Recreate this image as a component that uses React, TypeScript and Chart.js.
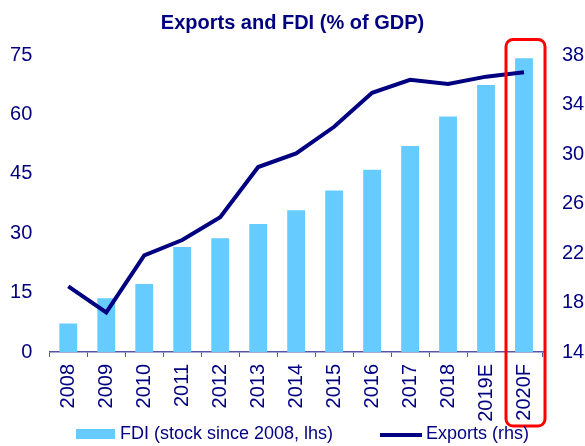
import React, { useEffect, useRef } from "react";
import { Chart, registerables } from "chart.js";

Chart.register(...registerables);

const categories = ["2008", "2009", "2010", "2011", "2012", "2013", "2014", "2015", "2016", "2017", "2018", "2019E", "2020F"];
const fdiStock = [7.2, 13.6, 17.2, 26.5, 28.7, 32.3, 35.8, 40.8, 46.0, 52.0, 59.5, 67.4, 74.2];
const exportsGdp = [19.3, 17.2, 21.8, 23.05, 24.9, 28.95, 30.05, 32.2, 34.95, 36.0, 35.65, 36.25, 36.6];
const leftTicks = [0, 15, 30, 45, 60, 75];
const rightTicks = [14, 18, 22, 26, 30, 34, 38];
const titleText = "Exports and FDI (% of GDP)";
const fdiLabel = "FDI (stock since 2008, lhs)";
const exportsLabel = "Exports (rhs)";
const highlightIndex = 12;

const NAVY = "#000080";
const BAR = "#66ccff";
const FONT = "'Liberation Sans', Arial, sans-serif";

const highlightPlugin = {
  id: "highlightBox",
  afterDatasetsDraw(chart: any) {
    const x = chart.scales.x;
    const area = chart.chartArea;
    const cx = x.getPixelForValue(highlightIndex);
    const left = cx - 18;
    const right = cx + 21;
    const top = area.top - 15.5;
    const bottom = area.bottom + 74;
    const r = 7;
    const ctx = chart.ctx;
    ctx.save();
    ctx.strokeStyle = "#ff0000";
    ctx.lineWidth = 3;
    ctx.beginPath();
    ctx.moveTo(left + r, top);
    ctx.lineTo(right - r, top);
    ctx.arcTo(right, top, right, top + r, r);
    ctx.lineTo(right, bottom - r);
    ctx.arcTo(right, bottom, right - r, bottom, r);
    ctx.lineTo(left + r, bottom);
    ctx.arcTo(left, bottom, left, bottom - r, r);
    ctx.lineTo(left, top + r);
    ctx.arcTo(left, top, left + r, top, r);
    ctx.closePath();
    ctx.stroke();
    ctx.restore();
  },
};

const legendPlugin = {
  id: "customLegend",
  afterDraw(chart: any) {
    const ctx = chart.ctx;
    const ds = chart.data.datasets;
    const y = 434.5;
    ctx.save();
    ctx.font = `18px ${FONT}`;
    ctx.textBaseline = "middle";
    ctx.textAlign = "left";
    ctx.fillStyle = ds[1].backgroundColor;
    ctx.fillRect(76, 429, 39, 10);
    ctx.fillStyle = NAVY;
    ctx.fillText(ds[1].label, 120, y);
    ctx.strokeStyle = ds[0].borderColor;
    ctx.lineWidth = 4;
    ctx.beginPath();
    ctx.moveTo(380, 435);
    ctx.lineTo(422, 435);
    ctx.stroke();
    ctx.fillStyle = NAVY;
    ctx.fillText(ds[0].label, 426, y);
    ctx.restore();
  },
};

export default function App() {
  const ref = useRef<HTMLCanvasElement | null>(null);
  useEffect(() => {
    if (!ref.current) return;
    const chart = new Chart(ref.current, {
      type: "bar",
      data: {
        labels: categories,
        datasets: [
          {
            type: "line",
            label: exportsLabel,
            data: exportsGdp,
            yAxisID: "y1",
            borderColor: NAVY,
            backgroundColor: NAVY,
            borderWidth: 4,
            pointRadius: 0,
            tension: 0,
            order: 0,
          } as any,
          {
            type: "bar",
            label: fdiLabel,
            data: fdiStock,
            yAxisID: "y",
            backgroundColor: BAR,
            borderWidth: 0,
            categoryPercentage: 1,
            barPercentage: 0.47,
            order: 1,
          },
        ],
      },
      options: {
        responsive: false,
        animation: false,
        layout: { padding: { left: 0, right: 0, top: 0, bottom: 21 } },
        plugins: {
          legend: { display: false },
          tooltip: { enabled: false },
          title: {
            display: true,
            text: titleText,
            color: NAVY,
            font: { family: FONT, size: 20, weight: "bold" },
            padding: { top: 11, bottom: 20 },
          },
        },
        scales: {
          x: {
            offset: true,
            grid: {
              offset: true,
              drawOnChartArea: false,
              drawTicks: true,
              tickLength: 5,
              color: "#5555aa",
              lineWidth: 1,
            },
            border: { display: true, color: "#5555aa", width: 1.5 },
            ticks: {
              color: NAVY,
              font: { family: FONT, size: 20 },
              minRotation: 90,
              maxRotation: 90,
              autoSkip: false,
              padding: 7,
            },
            afterFit(scale: any) {
              scale.height = 73;
            },
          },
          y: {
            position: "left",
            min: 0,
            max: 75,
            afterBuildTicks(scale: any) {
              scale.ticks = leftTicks.map((v) => ({ value: v }));
            },
            grid: { display: false, drawTicks: false },
            border: { display: false },
            ticks: {
              color: NAVY,
              font: { family: FONT, size: 20 },
              padding: 17,
            },
            afterFit(scale: any) {
              scale.width = 49.3;
            },
          },
          y1: {
            position: "right",
            min: 14,
            max: 38,
            afterBuildTicks(scale: any) {
              scale.ticks = rightTicks.map((v) => ({ value: v }));
            },
            grid: { display: false, drawTicks: false },
            border: { display: false },
            ticks: {
              color: NAVY,
              font: { family: FONT, size: 20 },
              padding: 19,
            },
            afterFit(scale: any) {
              scale.width = 42;
            },
          },
        },
      },
      plugins: [highlightPlugin, legendPlugin],
    });
    return () => chart.destroy();
  }, []);

  return (
    <div style={{ position: "fixed", left: 0, top: 0, width: 585, height: 446, background: "#fff" }}>
      <canvas ref={ref} width={585} height={446} style={{ display: "block" }} />
    </div>
  );
}
